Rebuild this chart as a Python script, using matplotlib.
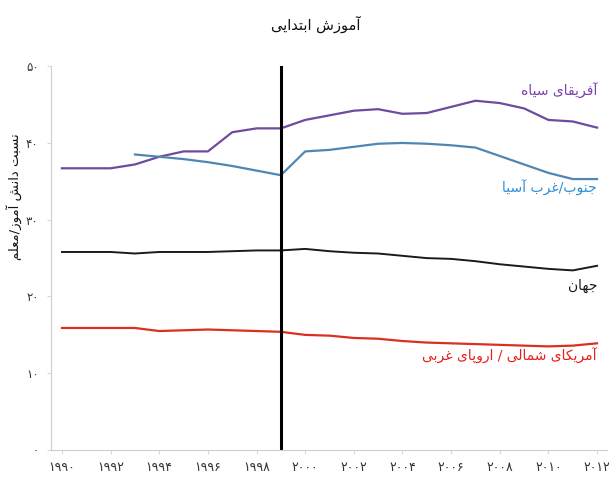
import matplotlib
matplotlib.use("Agg")
import matplotlib.pyplot as plt

plt.rcParams['font.family'] = ['DejaVu Sans']

# داده ها
years = list(range(1990, 2013))
africa = [36.7, 36.7, 36.7, 37.2, 38.2, 38.9, 38.9, 41.4, 41.9, 41.9, 43.0, 43.6,
          44.2, 44.4, 43.8, 43.9, 44.7, 45.5, 45.2, 44.5, 43.0, 42.8, 42.0]
asia_years = list(range(1993, 2013))
asia = [38.5, 38.2, 37.9, 37.5, 37.0, 36.4, 35.8, 38.9, 39.1, 39.5, 39.9, 40.0,
        39.9, 39.7, 39.4, 38.3, 37.2, 36.1, 35.3, 35.3]
world = [25.8, 25.8, 25.8, 25.6, 25.8, 25.8, 25.8, 25.9, 26.0, 26.0, 26.2, 25.9,
         25.7, 25.6, 25.3, 25.0, 24.9, 24.6, 24.2, 23.9, 23.6, 23.4, 24.0]
namerica = [15.9, 15.9, 15.9, 15.9, 15.5, 15.6, 15.7, 15.6, 15.5, 15.4, 15.0, 14.9,
            14.6, 14.5, 14.2, 14.0, 13.9, 13.8, 13.7, 13.6, 13.5, 13.6, 13.9]
x_ticks = list(range(1990, 2013, 2))
y_ticks = [0, 10, 20, 30, 40, 50]
marker_year = 1999

title = "آموزش ابتدایی"
ylabel = "نسبت دانش آموز/معلم"
names = ["آفریقای سیاه", "جنوب/غرب آسیا", "جهان", "آمریکای شمالی / اروپای غربی"]

# شکل حروف فارسی (matplotlib حروف را به هم وصل نمی کند)
FORMS = {
    'ا': ('\uFE8D', '\uFE8E', None, None),
    'آ': ('\uFE81', '\uFE82', None, None),
    'ب': ('\uFE8F', '\uFE90', '\uFE91', '\uFE92'),
    'ت': ('\uFE95', '\uFE96', '\uFE97', '\uFE98'),
    'ج': ('\uFE9D', '\uFE9E', '\uFE9F', '\uFEA0'),
    'د': ('\uFEA9', '\uFEAA', None, None),
    'ر': ('\uFEAD', '\uFEAE', None, None),
    'ز': ('\uFEAF', '\uFEB0', None, None),
    'س': ('\uFEB1', '\uFEB2', '\uFEB3', '\uFEB4'),
    'ش': ('\uFEB5', '\uFEB6', '\uFEB7', '\uFEB8'),
    'ع': ('\uFEC9', '\uFECA', '\uFECB', '\uFECC'),
    'غ': ('\uFECD', '\uFECE', '\uFECF', '\uFED0'),
    'ف': ('\uFED1', '\uFED2', '\uFED3', '\uFED4'),
    'ق': ('\uFED5', '\uFED6', '\uFED7', '\uFED8'),
    'ل': ('\uFEDD', '\uFEDE', '\uFEDF', '\uFEE0'),
    'م': ('\uFEE1', '\uFEE2', '\uFEE3', '\uFEE4'),
    'ن': ('\uFEE5', '\uFEE6', '\uFEE7', '\uFEE8'),
    'ه': ('\uFEE9', '\uFEEA', '\uFEEB', '\uFEEC'),
    'و': ('\uFEED', '\uFEEE', None, None),
    'پ': ('\uFB56', '\uFB57', '\uFB58', '\uFB59'),
    'ک': ('\uFB8E', '\uFB8F', '\uFB90', '\uFB91'),
    'ی': ('\uFBFC', '\uFBFD', '\uFBFE', '\uFBFF'),
}


def fa(text):
    out = []
    for i, ch in enumerate(text):
        f = FORMS.get(ch)
        if f is None:
            out.append(ch)
            continue
        prev = text[i - 1] if i > 0 else ''
        nxt = text[i + 1] if i < len(text) - 1 else ''
        jp = prev in FORMS and FORMS[prev][2] is not None
        jn = f[2] is not None and nxt in FORMS
        if jp and jn:
            out.append(f[3])
        elif jp:
            out.append(f[1])
        elif jn:
            out.append(f[2])
        else:
            out.append(f[0])
    return ''.join(reversed(out))


def fa_num(n):
    return str(n).translate(str.maketrans('0123456789', '۰۱۲۳۴۵۶۷۸۹'))


fig = plt.figure(figsize=(6.11, 4.94), dpi=100)
ax = fig.add_axes([0.0835, 0.089, 0.91, 0.777])

ax.plot(years, africa, color='#6f4a9e', lw=1.6)
ax.plot(asia_years, asia, color='#4f87b4', lw=1.6)
ax.plot(years, world, color='#1a1a1a', lw=1.4)
ax.plot(years, namerica, color='#d8321e', lw=1.6)
ax.axvline(marker_year, color='black', lw=2.2)

ax.text(2012.0, 46.8, fa(names[0]), color='#7f3fb0', fontsize=10, ha='right', va='center')
ax.text(2012.0, 34.2, fa(names[1]), color='#2d8fd5', fontsize=10, ha='right', va='center')
ax.text(2012.0, 21.4, fa(names[2]), color='#1a1a1a', fontsize=10, ha='right', va='center')
ax.text(2012.0, 12.3, fa(names[3]), color='#e8201a', fontsize=10, ha='right', va='center')

ax.set_xlim(1989.55, 2012.41)
ax.set_ylim(0, 50)
ax.set_xticks(x_ticks)
ax.set_xticklabels([fa_num(v) for v in x_ticks])
ax.set_yticks(y_ticks)
ax.set_yticklabels([fa_num(v) for v in y_ticks])
ax.tick_params(axis='x', length=3, color='#d8d8d8', labelsize=9, labelcolor='#333333', pad=5)
ax.tick_params(axis='y', length=3, color='#d8d8d8', labelsize=8.5, labelcolor='#333333', pad=6)
for s in ['top', 'right']:
    ax.spines[s].set_visible(False)
for s in ['left', 'bottom']:
    ax.spines[s].set_color('#cfcfcf')
    ax.spines[s].set_linewidth(0.8)

ax.set_ylabel(fa(ylabel), fontsize=9.5, color='#111111')
ax.yaxis.set_label_coords(-0.052, 0.66)
fig.text(0.517, 0.95, fa(title), fontsize=10.5, ha='center', va='center', color='#111111')

fig.savefig('out.png', dpi=100)
